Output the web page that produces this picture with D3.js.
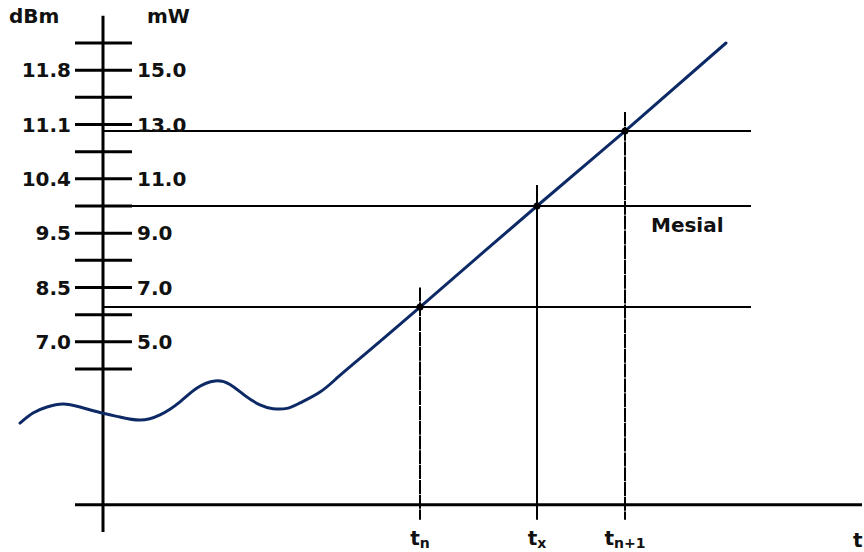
<!DOCTYPE html>
<html><head><meta charset="utf-8">
<script src="https://cdn.jsdelivr.net/npm/d3@7"></script>
<style>body{margin:0;background:#fff}svg{display:block}text{font-family:"DejaVu Sans",Verdana,sans-serif;font-weight:bold;fill:#111}</style>
</head><body><svg id="c" width="864" height="552"></svg>
<script>
// ---- data ----
const mwTicks = [4,5,6,7,8,9,10,11,12,13,14,15,16];
const mwLabels = [5,7,9,11,13,15];
const dbmLabels = ["7.0","8.5","9.5","10.4","11.1","11.8"];
const curveT  = [-8.3,-7.0,-5.6,-4.0,-2.3,-0.3,1.7,3.7,5.7,7.7,9.4,11.2,12.7,14.2,15.7,17.0,18.4,19.7,21.7,23.4,25.4,31.7,43.4,52.2,62.3];
const curveMW = [2.01,2.38,2.60,2.71,2.60,2.40,2.23,2.12,2.31,2.79,3.30,3.56,3.43,3.02,2.68,2.54,2.55,2.75,3.15,3.67,4.30,6.28,10.0,12.76,16.0];
const levelNames = ["low","mesial","high"];
const levelMW = [6.28,10.0,12.76];
const markNames = ["t_n","t_x","t_n+1"];
const markT = [31.7,43.4,52.2];
const markTopMW = [7.0,10.77,13.46];
const markDashed = [true,false,true];

// ---- scales ----
const x = d3.scaleLinear().domain([0,76]).range([103,863]);
const y = d3.scaleLinear().domain([16,4]).range([43,369]);
const svg = d3.select("#c");

// horizontal reference levels
svg.selectAll(".lvl").data(levelMW).join("line")
  .attr("x1",x(0)).attr("x2",x(64.8)).attr("y1",d=>y(d)).attr("y2",d=>y(d))
  .attr("stroke","#000").attr("stroke-width",2);

// vertical time markers
svg.selectAll(".mk").data(markT).join("line")
  .attr("x1",d=>x(d)).attr("x2",d=>x(d))
  .attr("y1",(d,i)=>y(markTopMW[i])).attr("y2",y(-1.55))
  .attr("stroke","#000").attr("stroke-width",2)
  .attr("stroke-dasharray",(d,i)=>markDashed[i]?"14,0.8":null);

// axes
svg.append("line").attr("x1",x(0)).attr("x2",x(0)).attr("y1",y(17)).attr("y2",y(-2))
  .attr("stroke","#000").attr("stroke-width",3);
svg.append("line").attr("x1",x(-2.8)).attr("x2",x(75.9)).attr("y1",y(-1)).attr("y2",y(-1))
  .attr("stroke","#000").attr("stroke-width",3);
svg.selectAll(".tk").data(mwTicks).join("line")
  .attr("x1",x(0)-28).attr("x2",x(0)+29).attr("y1",d=>y(d)).attr("y2",d=>y(d))
  .attr("stroke","#000").attr("stroke-width",3);

// tick labels
svg.selectAll(".mwl").data(mwLabels).join("text")
  .attr("x",x(0)+34).attr("y",d=>y(d)+7).attr("font-size",20).text(d=>d.toFixed(1));
svg.selectAll(".dbl").data(mwLabels).join("text")
  .attr("x",x(0)-32).attr("y",d=>y(d)+7).attr("text-anchor","end").attr("font-size",20)
  .text((d,i)=>dbmLabels[i]);
svg.append("text").attr("x",9).attr("y",23).attr("font-size",20).text("dBm");
svg.append("text").attr("x",147).attr("y",23).attr("font-size",20).text("mW");

// signal curve
const line = d3.line().x((d,i)=>x(curveT[i])).y((d,i)=>y(curveMW[i])).curve(d3.curveNatural);
svg.append("path").attr("d",line(curveT)).attr("fill","none")
  .attr("stroke","#0d2a66").attr("stroke-width",3).attr("stroke-linecap","round");

// intersection dots
svg.selectAll(".dot").data(markT).join("circle")
  .attr("cx",d=>x(d)).attr("cy",(d,i)=>y(levelMW[i])).attr("r",3.5).attr("fill","#000");

// time labels
const subs = ["n","x","n+1"];
markT.forEach((t,i)=>{
  const tx = svg.append("text").attr("x",x(t)).attr("y",545).attr("text-anchor","middle").attr("font-size",20);
  tx.append("tspan").text("t");
  tx.append("tspan").attr("font-size",14).attr("dy",3).text(subs[i]);
});
svg.append("text").attr("x",853).attr("y",547).attr("font-size",20).text("t");
svg.append("text").attr("x",651).attr("y",232).attr("font-size",20).text("Mesial");
</script></body></html>
